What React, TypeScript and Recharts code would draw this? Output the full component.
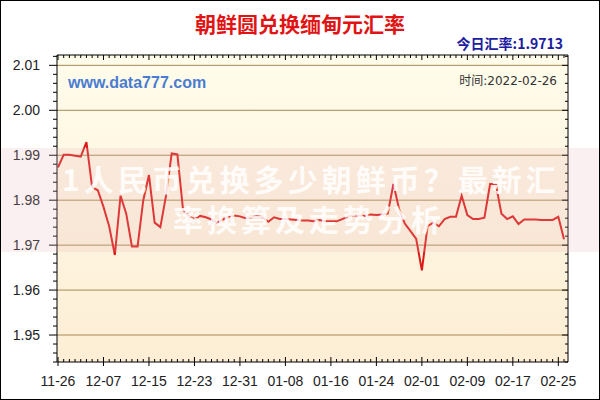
import React from "react";
import { LineChart, Line, XAxis, YAxis, CartesianGrid, ReferenceLine } from "recharts";

// 日期（前几天不连续，从 12-07 起为每日）
const DATES = [
  "11-26", "11-27", "11-28", "11-29", "11-30", "12-01", "12-02", "12-03",
  "12-07", "12-08", "12-09", "12-10", "12-11", "12-12", "12-13", "12-14", "12-15",
  "12-16", "12-17", "12-18", "12-19", "12-20", "12-21", "12-22", "12-23", "12-24",
  "12-25", "12-26", "12-27", "12-28", "12-29", "12-30", "12-31",
  "01-01", "01-02", "01-03", "01-04", "01-05", "01-06", "01-07", "01-08", "01-09",
  "01-10", "01-11", "01-12", "01-13", "01-14", "01-15", "01-16", "01-17", "01-18",
  "01-19", "01-20", "01-21", "01-22", "01-23", "01-24", "01-25", "01-26", "01-27",
  "01-28", "01-29", "01-30", "01-31",
  "02-01", "02-02", "02-03", "02-04", "02-05", "02-06", "02-07", "02-08", "02-09",
  "02-10", "02-11", "02-12", "02-13", "02-14", "02-15", "02-16", "02-17", "02-18",
  "02-19", "02-20", "02-21", "02-22", "02-23", "02-24", "02-25", "02-26",
];

const RATES = [
  1.9873, 1.9901, 1.9901, 1.9899, 1.9897, 1.9929, 1.9829, 1.9822, 1.9785, 1.9742,
  1.9678, 1.981, 1.977, 1.9697, 1.9697, 1.98, 1.9856, 1.975, 1.974, 1.981,
  1.9904, 1.9902, 1.9778, 1.9765, 1.9758, 1.9765, 1.9762, 1.9757, 1.975, 1.9757,
  1.9763, 1.9766, 1.9764, 1.976, 1.9762, 1.9764, 1.9762, 1.9752, 1.9762, 1.9758,
  1.9758, 1.9757, 1.9756, 1.9755, 1.9755, 1.9753, 1.9756, 1.9753, 1.9753, 1.9753,
  1.9758, 1.9764, 1.9766, 1.9766, 1.9765, 1.9768, 1.9767, 1.9768, 1.977, 1.9836,
  1.978, 1.9748, 1.9731, 1.9714, 1.9644, 1.9742, 1.975, 1.9742, 1.9758, 1.9763,
  1.9763, 1.981, 1.9767, 1.9758, 1.9758, 1.9761, 1.9836, 1.9836, 1.977, 1.9758,
  1.9764, 1.9747, 1.9757, 1.9757, 1.9757, 1.9756, 1.9756, 1.9756, 1.9763, 1.9713,
];

const Y_MAJOR = [1.95, 1.96, 1.97, 1.98, 1.99, 2.0, 2.01];
const Y_MINOR = [
  1.944, 1.946, 1.948, 1.95, 1.952, 1.954, 1.956, 1.958, 1.96, 1.962, 1.964, 1.966,
  1.968, 1.97, 1.972, 1.974, 1.976, 1.978, 1.98, 1.982, 1.984, 1.986, 1.988, 1.99,
  1.992, 1.994, 1.996, 1.998, 2.0, 2.002, 2.004, 2.006, 2.008, 2.01, 2.012,
];
const X_LABEL_EVERY = 8;

const data = DATES.map((d, i) => ({ date: d, rate: RATES[i] }));

const isMajorY = (v: number) => Y_MAJOR.some((m) => Math.abs(m - v) < 1e-6);
const labelFont = "'Liberation Sans', Arial, sans-serif";

function LeftTick({ x, y, payload }: any) {
  const major = isMajorY(payload.value);
  return (
    <g>
      <line x1={x - (major ? 8 : 4)} x2={x} y1={y} y2={y} stroke="#000" />
      {major && (
        <text x={x - 17} y={y} dy="0.36em" textAnchor="end" fontSize={14} fill="#222" fontFamily={labelFont}>
          {payload.value.toFixed(2)}
        </text>
      )}
    </g>
  );
}

function RightTick({ x, y, payload }: any) {
  const major = isMajorY(payload.value);
  return <line x1={x - (major ? 6 : 3)} x2={x} y1={y} y2={y} stroke="#000" />;
}

function BottomTick({ x, y, payload, index }: any) {
  const major = index % X_LABEL_EVERY === 0;
  return (
    <g>
      <line x1={x} x2={x} y1={y - (major ? 5 : 3)} y2={major ? y + 4 : y} stroke="#000" />
      {major && (
        <text x={x} y={y + 24} textAnchor="middle" fontSize={14} fill="#222" fontFamily={labelFont}>
          {payload.value}
        </text>
      )}
    </g>
  );
}

function TopTick({ x, y, index }: any) {
  const major = index % X_LABEL_EVERY === 0;
  return <line x1={x} x2={x} y1={y} y2={y + (major ? 5 : 3)} stroke="#000" />;
}

const wmText: React.CSSProperties = {
  position: "absolute",
  lineHeight: "34px",
  fontSize: 30,
  letterSpacing: 4,
  fontWeight: 700,
  color: "rgba(255,255,255,0.86)",
  whiteSpace: "nowrap",
  fontFamily: "'Noto Sans CJK SC', sans-serif",
  pointerEvents: "none",
};

export default function App() {
  return (
    <div style={{ position: "absolute", left: 0, top: 0, width: 600, height: 400, background: "#fff", overflow: "hidden" }}>
      <LineChart width={600} height={400} data={data} margin={{ top: 54, right: 31, bottom: 0, left: 0 }}>
        <defs>
          <linearGradient id="plotBg" x1="0" y1="0" x2="0" y2="1">
            <stop offset="0%" stopColor="#FFFCEB" />
            <stop offset="100%" stopColor="#FDEED5" />
          </linearGradient>
        </defs>
        <CartesianGrid horizontal={false} vertical={false} fill="url(#plotBg)" />
        <XAxis
          dataKey="date"
          height={38}
          interval={0}
          padding={{ left: 1, right: 4 }}
          tickSize={0}
          tickMargin={0}
          tickLine={false}
          axisLine={{ stroke: "#000" }}
          tick={<BottomTick />}
        />
        <XAxis
          xAxisId="top"
          dataKey="date"
          orientation="top"
          height={1}
          interval={0}
          padding={{ left: 1, right: 4 }}
          tickSize={0}
          tickMargin={0}
          tickLine={false}
          axisLine={{ stroke: "#000" }}
          tick={<TopTick />}
        />
        <YAxis
          width={57}
          domain={[1.944, 2.0123]}
          ticks={Y_MINOR}
          interval={0}
          allowDataOverflow
          tickSize={0}
          tickMargin={0}
          tickLine={false}
          axisLine={{ stroke: "#000" }}
          tick={<LeftTick />}
        />
        <YAxis
          yAxisId="r"
          orientation="right"
          width={1}
          domain={[1.944, 2.0123]}
          ticks={Y_MINOR}
          interval={0}
          allowDataOverflow
          tickSize={0}
          tickMargin={0}
          tickLine={false}
          axisLine={{ stroke: "#000" }}
          tick={<RightTick />}
        />
        {Y_MAJOR.map((v) => (
          <ReferenceLine key={v} y={v} stroke="#A48A52" strokeWidth={1} />
        ))}
        <Line
          type="linear"
          dataKey="rate"
          stroke="#DC1A1A"
          strokeWidth={2}
          dot={false}
          isAnimationActive={false}
        />
      </LineChart>

      <div style={{ position: "absolute", left: 0, top: 11, width: 600, textAlign: "center", lineHeight: "24px", fontSize: 21, fontWeight: 700, color: "#E01414", fontFamily: "'Noto Sans CJK SC', sans-serif" }}>
        朝鲜圆兑换缅甸元汇率
      </div>
      <div style={{ position: "absolute", right: 37, top: 35, lineHeight: "16px", fontSize: 14, fontWeight: 700, color: "#1C1CA0", fontFamily: "'Noto Sans CJK SC', sans-serif" }}>
        今日汇率:1.9713
      </div>
      <div style={{ position: "absolute", left: 68, top: 74, lineHeight: "18px", fontSize: 16, fontWeight: 700, color: "#4A7CD2", fontFamily: labelFont }}>
        www.data777.com
      </div>
      <div style={{ position: "absolute", right: 43, top: 74, lineHeight: "14px", fontSize: 12, color: "#333", fontFamily: "'DejaVu Sans', 'Noto Sans CJK SC', sans-serif" }}>
        时间:2022-02-26
      </div>

      {/* 水印层 */}
      <div style={{ position: "absolute", left: 0, top: 148, width: 600, height: 104, background: "rgba(230,180,185,0.2)", pointerEvents: "none" }} />
      <div style={{ ...wmText, left: 62, top: 161 }}>1人民币兑换多少朝鲜币？最新汇</div>
      <div style={{ ...wmText, left: 173, top: 201 }}>率换算及走势分析</div>

      <div style={{ position: "absolute", left: 0, top: 0, width: 600, height: 400, boxSizing: "border-box", border: "1px solid #000", pointerEvents: "none" }} />
    </div>
  );
}
